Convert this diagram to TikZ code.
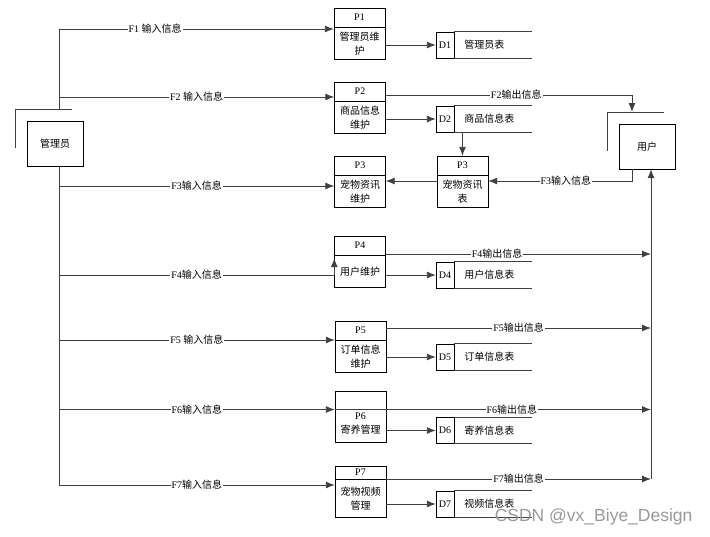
\documentclass[tikz,border=0pt]{standalone}
\usepackage{fontspec}
\setmainfont{Liberation Serif}
\newfontfamily\cjk{Noto Sans CJK SC}
\newfontfamily\wmfont{Liberation Sans}
\usetikzlibrary{positioning,arrows.meta}

\tikzset{
  entity/.style={draw, minimum width=56pt, minimum height=45pt, inner sep=0pt, font=\cjk\fontsize{10}{12}\selectfont},
  phead/.style={draw, minimum width=51pt, minimum height=19pt, inner sep=0pt, font=\fontsize{10}{12}\selectfont},
  pbody/.style={draw, minimum width=51pt, minimum height=32pt, inner sep=0pt, align=center, font=\cjk\fontsize{10}{14}\selectfont},
  dsid/.style={draw, minimum width=18pt, minimum height=26pt, inner sep=0pt, font=\fontsize{10}{12}\selectfont},
  dstext/.style={inner sep=0pt, font=\cjk\fontsize{10}{12}\selectfont},
  wire/.style={draw=black!75, line width=0.9pt},
  flow/.style={wire, -{Latex[length=9pt,width=7pt]}},
  flbl/.style={fill=white, inner sep=1pt, font=\fontsize{10}{11}\selectfont},
}

\begin{document}
\begin{tikzpicture}[x=1pt, y=-1pt]
  \useasboundingbox (0,0) rectangle (710,536);

  % external entities
  \node[entity] (admin) at (55,143.5) {管理员};
  \coordinate (abr) at (15,109);
  \draw[wire] (15,148) -- (abr) -- (72,109);
  \node[entity] (user) at (647,146.5) {用户};
  \coordinate (ubr) at (607,112);
  \draw[wire] (607,151) -- (ubr) -- (664,112);

  % processes
  \node[phead] (p1h) at (359.5,17.5) {P1};
  \node[pbody, below=0pt of p1h] (p1b) {管理员维\\护};
  \node[phead] (p2h) at (360,91.5) {P2};
  \node[pbody, below=0pt of p2h] (p2b) {商品信息\\维护};
  \node[phead] (p3h) at (360,165.5) {P3};
  \node[pbody, below=0pt of p3h] (p3b) {宠物资讯\\维护};
  \node[phead] (s3h) at (462.5,165.5) {P3};
  \node[pbody, below=0pt of s3h] (s3b) {宠物资讯\\表};
  \node[phead] (p4h) at (360,245.5) {P4};
  \node[pbody, below=0pt of p4h] (p4b) {用户维护};
  \node[phead] (p5h) at (360.5,330.5) {P5};
  \node[pbody, below=0pt of p5h] (p5b) {订单信息\\维护};
  \node[draw, minimum width=51pt, minimum height=51pt] (p6) at (360.5,416.5) {};
  \node[pbody, draw=none, minimum height=0pt] (p6t) at (360.5,423.5) {{\rmfamily P6}\\寄养管理};
  \node[phead, minimum height=13pt] (p7h) at (360.5,472.5) {P7};
  \node[pbody, below=0pt of p7h, minimum height=38pt] (p7b) {宠物视频\\管理};

  % data stores
  \foreach \n/\y/\t in {1/45/管理员表, 2/119/商品信息表, 4/275/用户信息表, 5/357/订单信息表, 6/430.5/寄养信息表, 7/504/视频信息表} {
    \node[dsid] (d\n) at (445,\y) {D\n};
    \node[dstext, anchor=west, right=10pt of d\n] (dt\n) {\t};
    \draw[wire] (d\n.north east) -- ++(78,0) (d\n.south east) -- ++(78,0);
  }

  % admin trunk and inputs
  \coordinate (tl1) at (59,29);
  \coordinate (tl2) at (59,97);
  \coordinate (tl3) at (59,186);
  \coordinate (tl4) at (59,275);
  \coordinate (tl5) at (59,340);
  \coordinate (tl6) at (59,409.5);
  \coordinate (tl7) at (59,485);
  \draw[wire] (tl1 |- abr) -- (tl1);
  \draw[wire] (tl1 |- admin.south) -- (tl7);
  \draw[flow] (tl1) -- node[flbl, pos=0.35] {F1 {\cjk 输入信息}} (tl1 -| p1b.west);
  \draw[flow] (tl2) -- node[flbl] {F2 {\cjk 输入信息}} (tl2 -| p2h.west);
  \draw[flow] (tl3) -- node[flbl] {F3{\cjk 输入信息}} (tl3 -| p3b.west);
  \draw[flow] (tl4) -- node[flbl] {F4{\cjk 输入信息}} (tl4 -| p4b.west) -- ([yshift=-3pt]p4b.north west);
  \draw[flow] (tl5) -- node[flbl] {F5 {\cjk 输入信息}} (tl5 -| p5b.west);
  \draw[flow] (tl6) -- node[flbl] {F6{\cjk 输入信息}} (tl6 -| p6.west);
  \draw[flow] (tl7) -- node[flbl] {F7{\cjk 输入信息}} (tl7 -| p7b.west);

  % processes to stores
  \draw[flow] (d1.west -| p1b.east) -- (d1.west);
  \draw[flow] (d2.west -| p2b.east) -- (d2.west);
  \draw[flow] (d2.south -| s3h.north) -- (s3h.north);
  \draw[flow] (d4.west -| p4b.east) -- (d4.west);
  \draw[flow] (d5.west -| p5b.east) -- (d5.west);
  \draw[flow] (d6.west -| p6.east) -- (d6.west);
  \draw[flow] (d7.west -| p7b.east) -- (d7.west);

  % user side
  \coordinate (u2) at (632,95);
  \coordinate (u3) at (632,181);
  \draw[flow] (u2 -| p2h.east) -- node[flbl, pos=0.53] {F2{\cjk 输出信息}} (u2) -- (u2 |- ubr);
  \draw[flow] (user.south -| u3) -- (u3) -- node[flbl, pos=0.46] {F3{\cjk 输入信息}} (u3 -| s3b.east);
  \draw[flow] (u3 -| s3b.west) -- (u3 -| p3b.east);

  \coordinate (tr4) at (651,254);
  \coordinate (tr5) at (651,328);
  \coordinate (tr6) at (651,409.5);
  \coordinate (tr7) at (651,479);
  \draw[flow] (tr4 -| p4h.east) -- node[flbl, pos=0.42] {F4{\cjk 输出信息}} (tr4);
  \draw[flow] (tr5 -| p5h.east) -- node[flbl] {F5{\cjk 输出信息}} (tr5);
  \draw[flow] (tr6 -| p6.west) -- node[flbl, pos=0.56] {F6{\cjk 输出信息}} (tr6);
  \draw[flow] (tr7 -| p7h.east) -- node[flbl] {F7{\cjk 输出信息}} (tr7);
  \draw[flow] (tr7) -- (tr7 |- user.south);

  \node[text=black!40, font=\wmfont\fontsize{17.5}{19}\selectfont, anchor=east] (wm) at (696,517) {CSDN @vx\_Biye\_Design};
\end{tikzpicture}
\end{document}
